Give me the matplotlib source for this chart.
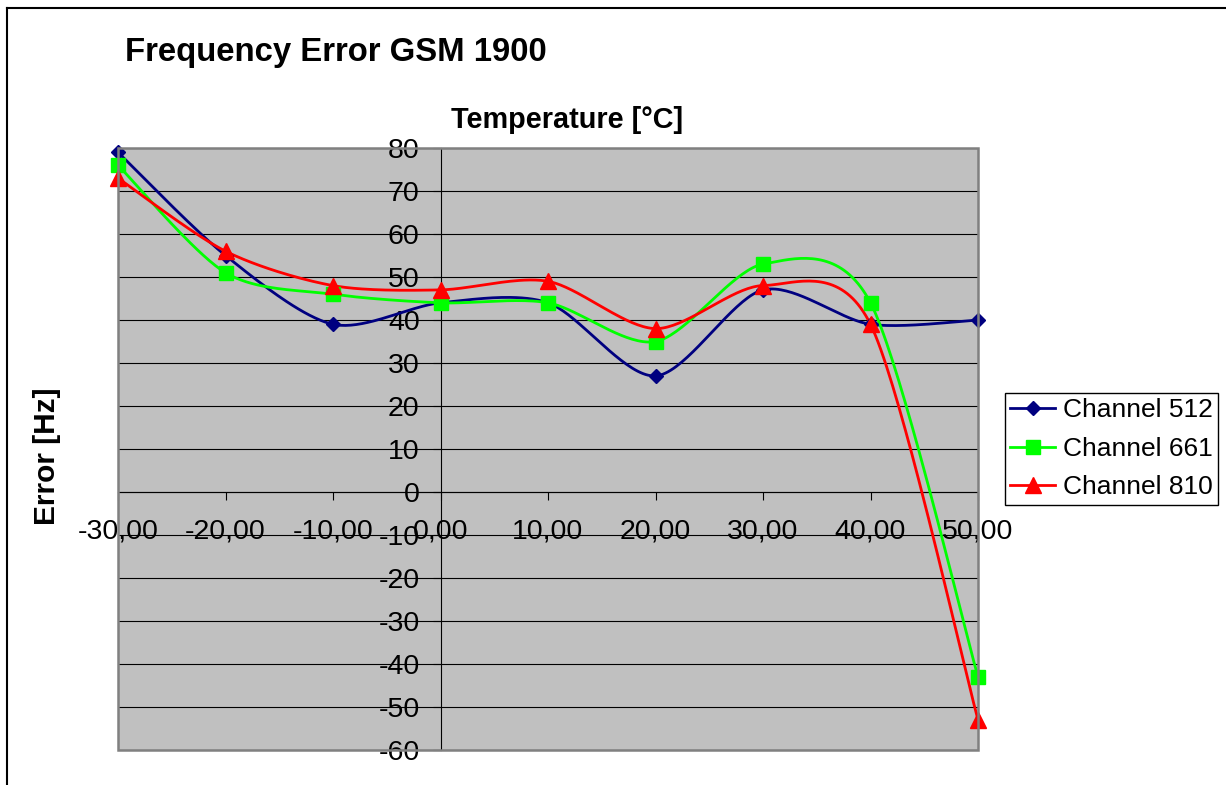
import numpy as np
import matplotlib
matplotlib.use("Agg")
import matplotlib.pyplot as plt
from matplotlib.lines import Line2D
from matplotlib.patches import Rectangle

plt.rcParams['font.family'] = ['Liberation Sans', 'DejaVu Sans']
plt.rcParams['axes.unicode_minus'] = False

# data
temps = [-30, -20, -10, 0, 10, 20, 30, 40, 50]
ch512 = [79, 55, 39, 44, 44, 27, 47, 39, 40]
ch661 = [76, 51, 46, 44, 44, 35, 53, 44, -43]
ch810 = [73, 56, 48, 47, 49, 38, 48, 39, -53]
labels = ['Channel 512', 'Channel 661', 'Channel 810']
xticklabels = ['-30,00', '-20,00', '-10,00', '0,00', '10,00', '20,00', '30,00', '40,00', '50,00']


def smooth(x, y, n=40, k=7.0):
    # excel-like smoothed line: catmull-rom style segments as cubic beziers
    p = np.column_stack([x, y]).astype(float)
    pp = np.vstack([p[0], p, p[-1]])
    out = []
    t = np.linspace(0, 1, n)[:, None]
    for i in range(len(p) - 1):
        p0, p1, p2, p3 = pp[i], pp[i + 1], pp[i + 2], pp[i + 3]
        c1 = p1 + (p2 - p0) / k
        c2 = p2 - (p3 - p1) / k
        seg = ((1 - t) ** 3) * p1 + 3 * ((1 - t) ** 2) * t * c1 + 3 * (1 - t) * t ** 2 * c2 + t ** 3 * p2
        out.append(seg if i == 0 else seg[1:])
    s = np.vstack(out)
    return s[:, 0], s[:, 1]


W, H = 1226, 785
fig = plt.figure(figsize=(W / 100, H / 100), dpi=100)
ax = fig.add_axes([118 / W, 1 - 750 / H, 860 / W, 602 / H])
ax.set_facecolor('#C0C0C0')
ax.set_xlim(-30, 50)
ax.set_ylim(-60, 80)

ax.set_yticks(range(-60, 81, 10))
ax.set_xticks(temps)
ax.set_xticklabels(xticklabels)
ax.yaxis.grid(True, color='black', linewidth=0.8)
ax.set_axisbelow(True)

for s in ['top', 'right']:
    ax.spines[s].set_visible(False)
ax.spines['left'].set_position(('data', 0))
ax.spines['bottom'].set_position(('data', 0))
ax.spines['left'].set_linewidth(0.8)
ax.spines['bottom'].set_linewidth(0.8)
ax.tick_params(axis='y', direction='out', length=6, width=0.8, pad=9, labelsize=20.5)
ax.tick_params(axis='x', direction='out', length=6, width=0.8, pad=13, labelsize=20.5)

# plot area border
ax.add_patch(Rectangle((0, 0), 1, 1, transform=ax.transAxes, fill=False,
                       edgecolor='#808080', linewidth=1.8, zorder=5, clip_on=False))

series = [(ch512, '#000080', 'D', 7.5), (ch661, '#00FF00', 's', 10), (ch810, '#FF0000', '^', 11)]
handles = []
for (vals, col, mk, ms), lab in zip(series, labels):
    sx, sy = smooth(temps, vals)
    ax.plot(sx, sy, color=col, linewidth=2, zorder=3, clip_on=False)
    ax.plot(temps, vals, linestyle='none', marker=mk, markersize=ms, color=col,
            markeredgecolor=col, zorder=4, clip_on=False)
    handles.append(Line2D([], [], color=col, linewidth=2, marker=mk, markersize=ms, markeredgecolor=col))

fig.text(125 / W, 1 - 53 / H, 'Frequency Error GSM 1900', fontsize=23.7, fontweight='bold',
         ha='left', va='center')
fig.text(567 / W, 1 - 120 / H, 'Temperature [°C]', fontsize=20.8, fontweight='bold',
         ha='center', va='center')
fig.text(47 / W, 1 - 456 / H, 'Error [Hz]', fontsize=21.5, fontweight='bold',
         ha='center', va='center', rotation=90)

leg = fig.legend(handles, labels, loc='upper left', bbox_to_anchor=(1005 / W, 1 - 393 / H),
                 bbox_transform=fig.transFigure, borderaxespad=0, fontsize=19,
                 frameon=True, fancybox=False, framealpha=1, edgecolor='black',
                 borderpad=0.2, labelspacing=0.55, handlelength=1.7, handletextpad=0.3)
leg.get_frame().set_linewidth(1)

# outer chart border
fig.add_artist(Line2D([6.5 / W, 1], [1 - 7.5 / H, 1 - 7.5 / H], color='black', linewidth=1.5))
fig.add_artist(Line2D([6.5 / W, 6.5 / W], [0, 1 - 7.5 / H], color='black', linewidth=1.5))

fig.savefig('out.png', dpi=100)
